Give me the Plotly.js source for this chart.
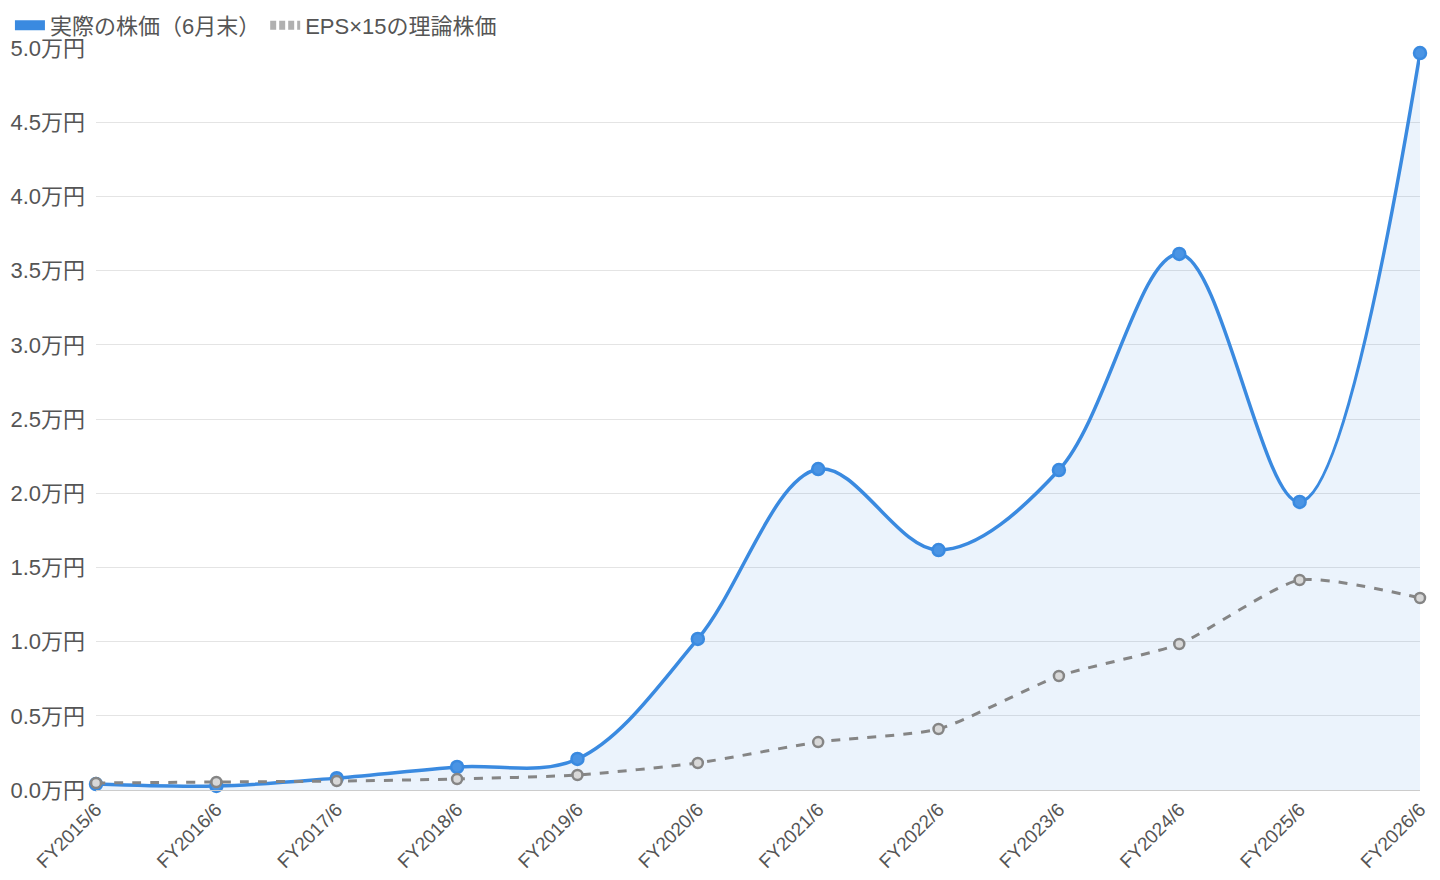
<!DOCTYPE html>
<html>
<head>
<meta charset="utf-8">
<script src="https://cdn.plot.ly/plotly-3.0.1.min.js"></script>
<style>
  html, body { margin: 0; padding: 0; background: #fff; }
  #chart { width: 1440px; height: 880px; }
</style>
</head>
<body>
<div id="chart"></div>
<script>
// categories
const years = ["FY2015/6", "FY2016/6", "FY2017/6", "FY2018/6", "FY2019/6", "FY2020/6",
               "FY2021/6", "FY2022/6", "FY2023/6", "FY2024/6", "FY2025/6", "FY2026/6"];

// series values (yen)
const actualPrice = [400, 270, 800, 1550, 2090, 10180, 21630, 16170, 21560, 36120, 19410, 49660];
const epsPrice = [470, 540, 600, 740, 1010, 1820, 3230, 4110, 7680, 9840, 14150, 12940];

// y ticks
const yTickVals = [0, 5000, 10000, 15000, 20000, 25000, 30000, 35000, 40000, 45000, 50000];
const yTickText = ["0.0万円", "0.5万円", "1.0万円", "1.5万円", "2.0万円", "2.5万円",
                   "3.0万円", "3.5万円", "4.0万円", "4.5万円", "5.0万円"];

const FONT = "'Liberation Sans', 'Noto Sans CJK JP', sans-serif";
const BLUE = "#3a8ae0";
const GREY = "#858585";

const data = [
    {
        x: years, y: actualPrice,
        name: "実際の株価（6月末）", showlegend: false, cliponaxis: false,
        type: "scatter", mode: "lines+markers",
        line: { color: BLUE, width: 3.5, shape: "spline", smoothing: 1 },
        marker: { size: 12, color: "#4a94e4", line: { color: BLUE, width: 2.5 } },
        fill: "tozeroy", fillcolor: "rgba(58,138,224,0.10)",
    },
    {
        x: years, y: epsPrice,
        name: "EPS×15の理論株価", showlegend: false, cliponaxis: false,
        type: "scatter", mode: "lines+markers",
        line: { color: GREY, width: 3, dash: "dash", shape: "spline", smoothing: 0.6 },
        marker: { size: 10, color: "#d8d8d8", line: { color: GREY, width: 2.5 } },
    },
    // legend entries (box-like keys)
    {
        x: [null], y: [null], name: "実際の株価（6月末）",
        type: "scatter", mode: "lines",
        line: { color: BLUE, width: 10 },
    },
    {
        x: [null], y: [null], name: "EPS×15の理論株価",
        type: "scatter", mode: "lines",
        line: { color: "#b0b0b0", width: 9, dash: "6px,3px" },
    },
];

const layout = {
    width: 1440, height: 880,
    margin: { l: 96, r: 20, t: 48, b: 90, autoexpand: false },
    paper_bgcolor: "#fff", plot_bgcolor: "#fff",
    font: { family: FONT, color: "#555", size: 22 },
    showlegend: true,
    legend: {
        orientation: "h", x: -0.065, xanchor: "left", y: 1.002, yanchor: "bottom",
        bgcolor: "rgba(0,0,0,0)",
        font: { size: 22, color: "#555" }, traceorder: "normal",
    },
    xaxis: {
        type: "category",
        range: [0, 11],
        showgrid: false,
        showline: true, linecolor: "#cccccc", linewidth: 1,
        ticks: "", tickangle: -45,
        tickfont: { size: 19, color: "#555" },
        fixedrange: true,
    },
    yaxis: {
        range: [0, 50000],
        tickvals: yTickVals, ticktext: yTickText,
        showgrid: true, gridcolor: "#e4e4e4", gridwidth: 1,
        zeroline: false, showline: false,
        ticks: "", ticklabelstandoff: 10,
        tickfont: { size: 22, color: "#555" },
        fixedrange: true,
    },
};

Plotly.newPlot("chart", data, layout, { displayModeBar: false, staticPlot: true });
</script>
</body>
</html>
